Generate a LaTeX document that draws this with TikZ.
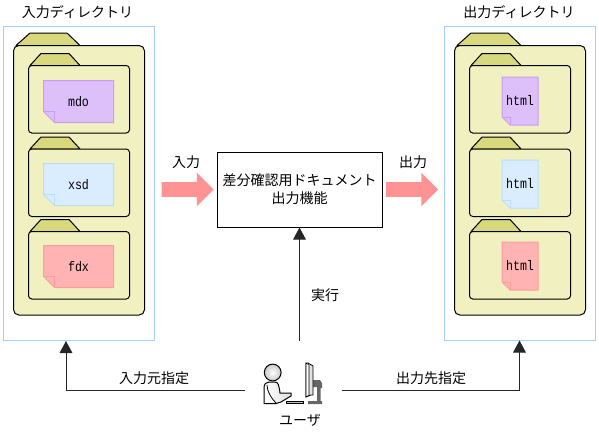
\documentclass[tikz,border=0pt]{standalone}
\usepackage{fontspec}
\setmainfont{Noto Sans CJK JP}
\setmonofont[FakeStretch=0.84]{Liberation Mono}
\usetikzlibrary{arrows.meta,shapes.arrows}
\definecolor{dirblue}{HTML}{A3CFFB}
\definecolor{folderfill}{HTML}{F0F0C0}
\definecolor{tabfill}{HTML}{D8D87C}
\definecolor{purplefill}{HTML}{DDBFFA}
\definecolor{purpleline}{HTML}{C99DF2}
\definecolor{bluefill}{HTML}{DAEDFF}
\definecolor{blueline}{HTML}{B9DDFF}
\definecolor{pinkfill}{HTML}{FFB3B3}
\definecolor{pinkline}{HTML}{FF9C9C}
\definecolor{arrowpink}{HTML}{FF9292}
\tikzset{
  dirbox/.style={draw=dirblue,line width=0.75pt,minimum width=113.25pt,minimum height=235.5pt,inner sep=0pt},
  funcbox/.style={draw=black,line width=0.75pt,minimum width=123.75pt,minimum height=56.25pt,inner sep=0pt,align=center,font=\fontsize{10.5pt}{13.5pt}\selectfont},
  bigarrow/.style={single arrow,fill=arrowpink,text height=10.5pt,text depth=0pt,minimum height=39pt,minimum width=25pt,single arrow head extend=7.2pt,inner sep=0pt},
  lbl/.style={inner sep=0pt,font=\fontsize{10.5pt}{12pt}\selectfont},
  notelbl/.style={inner sep=0pt,font=\fontsize{10.4pt}{11pt}\ttfamily},
  conn/.style={draw=black!85,line width=0.75pt},
  tip/.style={-{Triangle[length=9pt,width=9.5pt]}},
  folder/.style={draw=black,line width=0.75pt,fill=folderfill,rounded corners=2.5pt},
  foldertab/.style={draw=black,line width=0.75pt,fill=tabfill,line join=round}
}
% sheet with a folded corner: name, left, top, width, height, fold, colours, text
\newcommand{\notebox}[9]{
  \filldraw[draw=#8,fill=#7,line width=0.75pt] (#2,#3) -- (#2+#4,#3) -- (#2+#4,#3+#5) -- (#2+#6,#3+#5) -- (#2,#3+#5-#6) -- cycle;
  \draw[draw=#8,line width=0.75pt] (#2,#3+#5-#6) -- (#2+#6,#3+#5-#6) -- (#2+#6,#3+#5);
  \node[notelbl] (#1) at (#2+#4/2,#3+#5/2) {#9};
}
\begin{document}
\begin{tikzpicture}[x=0.75pt,y=-0.75pt]
\useasboundingbox (0,0) rectangle (599,433);
% directories
\node[dirbox] (indir) at (78.5,183) {};
\node[dirbox] (outdir) at (519.5,183) {};
\node[lbl] (intitle) at (77.5,12) {入力ディレクトリ};
\node[lbl] (outtitle) at (519,12) {出力ディレクトリ};
\foreach \dx in {0,441}{
  \begin{scope}[shift={(\dx,0)}]
    \draw[foldertab] (16,45.5) -- (30,33) -- (67,33) -- (80,45.5) -- cycle;
    \draw[folder,rounded corners=4pt] (13.5,45.5) rectangle (144.5,315);
    \foreach \y in {65.5,149,231.5}{
      \draw[foldertab] (30,\y) -- (41,\y-12) -- (69,\y-12) -- (80,\y) -- cycle;
      \draw[folder] (28.5,\y) rectangle (129.5,\y+67.5);
    }
  \end{scope}
}
% sheets
\notebox{mdo}{43.5}{80.5}{70}{42}{11}{purplefill}{purpleline}{mdo}
\notebox{xsd}{43.5}{163.5}{70}{42}{11}{bluefill}{blueline}{xsd}
\notebox{fdx}{43.5}{245.5}{70}{42}{11}{pinkfill}{pinkline}{fdx}
\notebox{htmla}{502}{77}{36}{48}{8}{purplefill}{purpleline}{html}
\notebox{htmlb}{502}{160}{36}{48}{8}{bluefill}{blueline}{html}
\notebox{htmlc}{502}{242}{36}{48}{8}{pinkfill}{pinkline}{html}
% function box and arrows
\node[funcbox] (func) at (299.5,189.5) {差分確認用ドキュメント\\出力機能};
\node[bigarrow] (inarrow) at (184,189.5) {};
\node[bigarrow] (outarrow) at (408.5,189.5) {};
\node[lbl] (inlabel) at (186,162) {入力};
\node[lbl] (outlabel) at (413,162) {出力};
% user
\node[minimum width=72.75pt,minimum height=30pt,inner sep=0pt] (user) at (293.5,390) {};
\fill[black!60] (313,380) -- (320,380) -- (322,383) -- (322,388) -- (320.5,388) -- (320.5,401) -- (322,401) -- (322,404) -- (308,404) -- (308,401) -- (317,401) -- (317,387) -- (313,387) -- cycle;
\draw[black,fill=black!12,line width=0.6pt] (306,385) -- (306,397) -- (311,395) -- (313,395) -- (313,366) -- (308,363) -- (306,363) -- cycle;
\draw[black,fill=white,line width=0.4pt] (306,363) -- (309,365) -- (309,395) -- (306,397) -- cycle;
\draw[black,fill=black!25,line width=0.5pt] (286,401) rectangle (303,403.5);
\shade[draw=black,line width=0.75pt,left color=white,right color=black!12] (264,403.5) -- (264,388) .. controls (264,384) and (266,382) .. (269,382) -- (275,382) .. controls (278,382) and (279,385) .. (280,393) -- (291,393) -- (291,396) -- (281,402) -- (276,403.5) -- cycle;
\draw[black,line width=0.6pt] (267,385) .. controls (267,392) and (272,399) .. (276,403);
\shade[draw=black,line width=0.75pt,inner color=white,outer color=black!22] (272.7,372.5) circle (8.4);
\node[lbl] (username) at (300,420) {ユーザ};
% connectors
\coordinate (intip) at (66,341);
\coordinate (runstart) at (299.5,341);
\draw[conn,tip] (user.west) -| (intip);
\draw[conn,tip] (user.east) -| (outdir.south);
\draw[conn,tip] (runstart) -- (func.south);
\node[lbl] (inset) at (154,378) {入力元指定};
\node[lbl] (outset) at (431,378) {出力先指定};
\node[lbl] (run) at (325,295) {実行};
\end{tikzpicture}
\end{document}
